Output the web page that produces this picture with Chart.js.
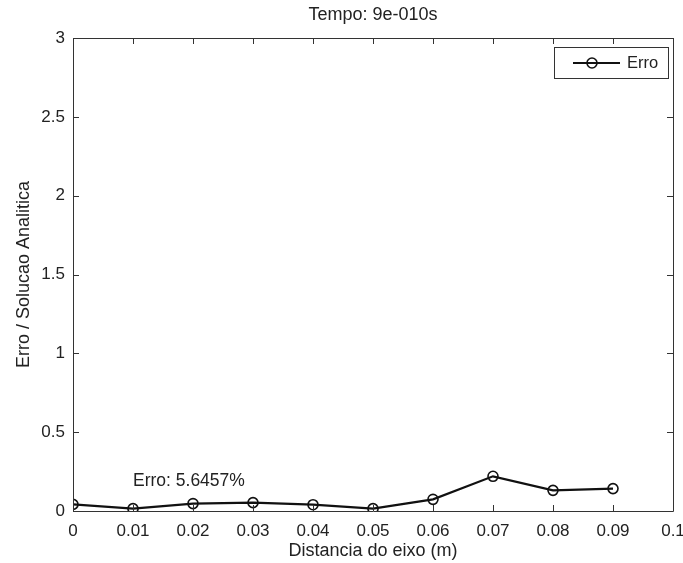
<!DOCTYPE html>
<html>
<head>
<meta charset="utf-8">
<title>Erro</title>
<script src="https://cdn.jsdelivr.net/npm/chart.js@4.4.1/dist/chart.umd.min.js"></script>
<style>
  html, body { margin: 0; padding: 0; background: #fff; }
  canvas { display: block; }
</style>
</head>
<body>
<canvas id="erro-chart" width="683" height="563"></canvas>
<script>
// values
var distances = [0, 0.01, 0.02, 0.03, 0.04, 0.05, 0.06, 0.07, 0.08, 0.09];
var erro = [0.042, 0.015, 0.047, 0.053, 0.04, 0.015, 0.074, 0.22, 0.131, 0.142];
var xTicks = [0, 0.01, 0.02, 0.03, 0.04, 0.05, 0.06, 0.07, 0.08, 0.09, 0.1];
var xTickLabels = ['0', '0.01', '0.02', '0.03', '0.04', '0.05', '0.06', '0.07', '0.08', '0.09', '0.1'];
var yTicks = [0, 0.5, 1, 1.5, 2, 2.5, 3];
var yTickLabels = ['0', '0.5', '1', '1.5', '2', '2.5', '3'];
var noteX = 0.01;
var noteY = 0.19;
var noteText = 'Erro: 5.6457%';

var FONT = '"Liberation Sans", Arial, Helvetica, sans-serif';
var INK = '#222';
var AXIS = '#333';

// MATLAB style frame, inward ticks, legend and text note
var matlabAxes = {
    id: 'matlabAxes',
    afterDatasetsDraw: function (chart) {
        var ctx = chart.ctx;
        var a = chart.chartArea;
        var xs = chart.scales.x, ys = chart.scales.y;
        var tl = 6;
        ctx.save();
        ctx.strokeStyle = AXIS;
        ctx.lineWidth = 1;
        ctx.beginPath();
        ctx.rect(Math.round(a.left) + 0.5, Math.round(a.top) + 0.5,
                 Math.round(a.right - a.left), Math.round(a.bottom - a.top));
        xTicks.forEach(function (v) {
            var px = Math.round(xs.getPixelForValue(v)) + 0.5;
            ctx.moveTo(px, a.bottom); ctx.lineTo(px, a.bottom - tl);
            ctx.moveTo(px, a.top); ctx.lineTo(px, a.top + tl);
        });
        yTicks.forEach(function (v) {
            var py = Math.round(ys.getPixelForValue(v)) + 0.5;
            ctx.moveTo(a.left, py); ctx.lineTo(a.left + tl, py);
            ctx.moveTo(a.right, py); ctx.lineTo(a.right - tl, py);
        });
        ctx.stroke();

        // text note at data coordinates
        ctx.fillStyle = INK;
        ctx.font = '17.5px ' + FONT;
        ctx.textAlign = 'left';
        ctx.textBaseline = 'middle';
        ctx.fillText(noteText, xs.getPixelForValue(noteX), ys.getPixelForValue(noteY));

        // legend box in the upper right corner
        var ds = chart.data.datasets[0];
        var bx = a.right - 119, by = a.top + 9, bw = 114, bh = 31;
        ctx.fillStyle = '#fff';
        ctx.fillRect(bx, by, bw, bh);
        ctx.strokeStyle = AXIS;
        ctx.strokeRect(bx + 0.5, by + 0.5, bw, bh);
        var ly = by + bh / 2 + 0.5;
        ctx.strokeStyle = ds.borderColor;
        ctx.lineWidth = ds.borderWidth;
        ctx.beginPath();
        ctx.moveTo(bx + 19, ly); ctx.lineTo(bx + 66, ly);
        ctx.stroke();
        ctx.lineWidth = ds.pointBorderWidth;
        ctx.beginPath();
        ctx.arc(bx + 38, ly, ds.pointRadius, 0, Math.PI * 2);
        ctx.stroke();
        ctx.fillStyle = INK;
        ctx.font = '16.5px ' + FONT;
        ctx.fillText(ds.label, bx + 73, ly);
        ctx.restore();
    }
};

var ctx = document.getElementById('erro-chart');
new Chart(ctx, {
    type: 'line',
    data: {
        datasets: [{
            label: 'Erro',
            data: distances.map(function (d, i) { return { x: d, y: erro[i] }; }),
            borderColor: '#111',
            borderWidth: 2.2,
            backgroundColor: 'rgba(0,0,0,0)',
            pointRadius: 5,
            pointBorderWidth: 1.6,
            pointBorderColor: '#111',
            pointBackgroundColor: 'rgba(0,0,0,0)',
            tension: 0
        }]
    },
    options: {
        responsive: false,
        animation: false,
        layout: { padding: { left: 0, right: 0, top: 0, bottom: 0 } },
        plugins: {
            legend: { display: false },
            tooltip: { enabled: false },
            title: {
                display: true,
                text: 'Tempo: 9e-010s',
                fullSize: false,
                color: INK,
                font: { family: FONT, size: 18, weight: 'normal' },
                padding: { top: 4.2, bottom: 12.2 }
            }
        },
        scales: {
            x: {
                type: 'linear',
                min: 0,
                max: 0.1,
                afterBuildTicks: function (s) { s.ticks = xTicks.map(function (v) { return { value: v }; }); },
                afterFit: function (s) { s.height = 52; s.paddingLeft = 0; s.paddingRight = 10; },
                grid: { display: false, drawTicks: false },
                border: { display: false },
                ticks: {
                    color: INK,
                    padding: 10,
                    maxRotation: 0,
                    autoSkip: false,
                    font: { family: FONT, size: 17 },
                    callback: function (v) { return xTickLabels[xTicks.indexOf(v)]; }
                },
                title: {
                    display: true,
                    text: 'Distancia do eixo (m)',
                    color: INK,
                    font: { family: FONT, size: 18 },
                    padding: { top: 0, bottom: 1.5 }
                }
            },
            y: {
                type: 'linear',
                min: 0,
                max: 3,
                afterBuildTicks: function (s) { s.ticks = yTicks.map(function (v) { return { value: v }; }); },
                afterFit: function (s) { s.width = 73; },
                grid: { display: false, drawTicks: false },
                border: { display: false },
                ticks: {
                    color: INK,
                    padding: 8,
                    autoSkip: false,
                    font: { family: FONT, size: 17 },
                    callback: function (v) { return yTickLabels[yTicks.indexOf(v)]; }
                },
                title: {
                    display: true,
                    text: 'Erro / Solucao Analitica',
                    color: INK,
                    font: { family: FONT, size: 18 },
                    padding: { top: 13.5, bottom: 0 }
                }
            }
        }
    },
    plugins: [matlabAxes]
});
</script>
</body>
</html>
